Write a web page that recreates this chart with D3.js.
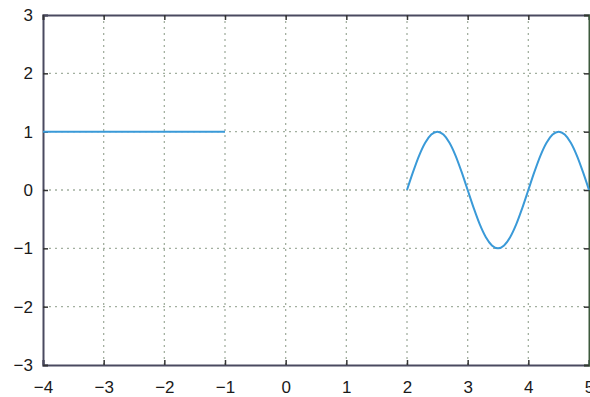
<!DOCTYPE html>
<html><head><meta charset="utf-8">
<script src="https://cdn.jsdelivr.net/npm/d3@7"></script>
<style>body{margin:0;background:#fff}svg{display:block}</style>
</head><body>
<svg id="c" width="590" height="397"></svg>
<script>
const xTicks = [-4,-3,-2,-1,0,1,2,3,4,5];
const yTicks = [-3,-2,-1,0,1,2,3];
const flatX = [-4,-3.5,-3,-2.5,-2,-1.5,-1];
const flatY = [1,1,1,1,1,1,1];
const waveX = [2,2.1,2.2,2.3,2.4,2.5,2.6,2.7,2.8,2.9,3,3.1,3.2,3.3,3.4,3.5,3.6,3.7,3.8,3.9,4,4.1,4.2,4.3,4.4,4.5,4.6,4.7,4.8,4.9,5];
const waveY = [0,0.31,0.59,0.81,0.95,1,0.95,0.81,0.59,0.31,0,-0.31,-0.59,-0.81,-0.95,-1,-0.95,-0.81,-0.59,-0.31,0,0.31,0.59,0.81,0.95,1,0.95,0.81,0.59,0.31,0];

const m = {l:43, r:589, t:15, b:365};
const svg = d3.select("#c");
const x = d3.scaleLinear().domain([-4,5]).range([m.l,m.r]);
const y = d3.scaleLinear().domain([-3,3]).range([m.b,m.t]);

// grid
const grid = svg.append("g").attr("stroke","#a3b0a0").attr("stroke-width",1.3).attr("stroke-dasharray","2,4");
grid.selectAll(".gx").data(xTicks.slice(1,-1)).join("line")
  .attr("x1",d=>x(d)).attr("x2",d=>x(d)).attr("y1",m.t).attr("y2",m.b);
grid.selectAll(".gy").data(yTicks.slice(1,-1)).join("line")
  .attr("y1",d=>y(d)).attr("y2",d=>y(d)).attr("x1",m.l).attr("x2",m.r);

// axes
const fmt = d => d<0 ? "\u2212"+Math.abs(d) : String(d);
const ax = svg.append("g").attr("transform",`translate(0,${m.b})`)
  .call(d3.axisBottom(x).tickValues(xTicks).tickSize(-5).tickPadding(16).tickFormat(fmt));
const ay = svg.append("g").attr("transform",`translate(${m.l},0)`)
  .call(d3.axisLeft(y).tickValues(yTicks).tickSize(-5).tickPadding(10).tickFormat(fmt));
const at = svg.append("g").attr("transform",`translate(0,${m.t})`)
  .call(d3.axisTop(x).tickValues(xTicks).tickSize(-5).tickFormat(""));
const ar = svg.append("g").attr("transform",`translate(${m.r},0)`)
  .call(d3.axisRight(y).tickValues(yTicks).tickSize(-5).tickFormat(""));
[ax,ay,at,ar].forEach(g=>{
  g.select(".domain").attr("stroke","#4a4a60").attr("stroke-width",2);
  g.selectAll(".tick line").attr("stroke","#333").attr("stroke-width",1.5);
  g.selectAll("text").attr("fill","#1a1a1a").style("font-family","Liberation Sans, Arial, sans-serif").style("font-size","17px");
});
ar.select(".domain").attr("stroke","#3d5a3d");

// lines
const line = d3.line().x(d=>x(d[0])).y(d=>y(d[1]));
svg.append("path").datum(flatX.map((v,i)=>[v,flatY[i]]))
  .attr("d",line).attr("fill","none").attr("stroke","#3a9ad8").attr("stroke-width",2);
svg.append("path").datum(waveX.map((v,i)=>[v,waveY[i]]))
  .attr("d",line.curve(d3.curveCardinal)).attr("fill","none").attr("stroke","#3a9ad8").attr("stroke-width",2);
</script>
</body></html>
